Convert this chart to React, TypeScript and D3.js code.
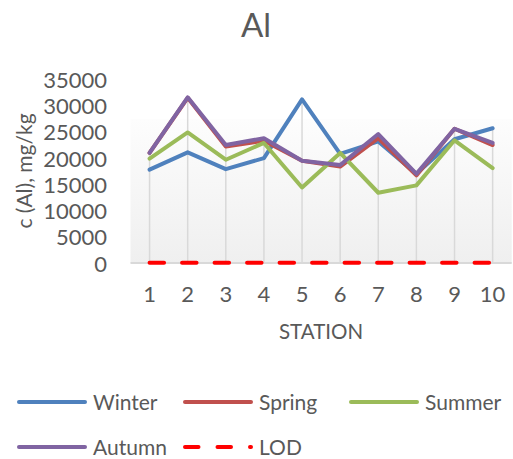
import React from "react";
import * as d3 from "d3";

const stations = ["1", "2", "3", "4", "5", "6", "7", "8", "9", "10"];
const winter = [17800, 21100, 17900, 20000, 31200, 20800, 23200, 17000, 23600, 25700];
const spring = [21000, 31500, 22200, 23300, 19500, 18400, 23800, 16700, 25600, 22500];
const summer = [19900, 24900, 19700, 22900, 14400, 21000, 13400, 14800, 23400, 18100];
const autumn = [21000, 31600, 22500, 23800, 19500, 18700, 24600, 17000, 25600, 22900];
const lod = [50, 50, 50, 50, 50, 50, 50, 50, 50, 50];
const yTicks = [0, 5000, 10000, 15000, 20000, 25000, 30000, 35000];

const seriesNames = ["Winter", "Spring", "Summer", "Autumn", "LOD"];
const colors = ["#4F81BD", "#C0504D", "#9BBB59", "#8064A2", "#FF0000"];

const FONT = "Lato, 'Open Sans', sans-serif";
const TXT = "#595959";

export default function App() {
  const W = 513, H = 459;
  const x = d3.scaleBand<string>().domain(stations).range([130.5, 511.7]).padding(0);
  const cx = (s: string) => (x(s) as number) + x.bandwidth() / 2;
  const y = d3.scaleLinear().domain([0, 35000]).range([263, 79.5]);
  const data = [winter, spring, summer, autumn, lod];
  const line = d3.line<number>().x((_, i) => cx(stations[i])).y((v) => y(v));
  const maxes = stations.map((_, i) => d3.max(data, (s) => s[i]) as number);

  const legend = [
    { i: 0, lx: 17, ly: 402, tx: 93 },
    { i: 1, lx: 183, ly: 402, tx: 259 },
    { i: 2, lx: 349, ly: 402, tx: 425 },
    { i: 3, lx: 17, ly: 447, tx: 93 },
    { i: 4, lx: 183, ly: 447, tx: 259 },
  ];

  return (
    <svg width={W} height={H} style={{ position: "absolute", left: 0, top: 0, background: "#fff" }} fontFamily={FONT}>
      <defs>
        <linearGradient id="bg" x1="0" y1="0" x2="0" y2="1">
          <stop offset="0" stopColor="#fdfdfd" />
          <stop offset="1" stopColor="#efefef" />
        </linearGradient>
      </defs>
      <rect x={0} y={0} width={W} height={H} fill="#fff" />
      <text x={256} y={37} textAnchor="middle" fontSize={33} fill={TXT}>Al</text>
      <rect x={130.5} y={119} width={511.7 - 130.5} height={263 - 119} fill="url(#bg)" />
      {stations.map((s, i) => (
        <line key={s} x1={cx(s)} x2={cx(s)} y1={y(maxes[i])} y2={263} stroke="#d9d9d9" strokeWidth={1.5} />
      ))}
      <line x1={130.5} x2={511.7} y1={263} y2={263} stroke="#d9d9d9" strokeWidth={2} />
      {yTicks.map((t) => (
        <text key={t} x={107} y={y(t) + 8.5} textAnchor="end" fontSize={22} fill={TXT}>{t}</text>
      ))}
      {stations.map((s) => (
        <text key={s} x={cx(s)} y={302} textAnchor="middle" fontSize={22} fill={TXT}>{s}</text>
      ))}
      <text transform="translate(32,171) rotate(-90)" textAnchor="middle" fontSize={21} fill={TXT}>c (Al), mg/kg</text>
      <text x={321} y={339} textAnchor="middle" fontSize={20.5} fill={TXT}>STATION</text>
      {data.map((d, k) => (
        <path
          key={k}
          d={line(d) as string}
          fill="none"
          stroke={colors[k]}
          strokeWidth={4}
          strokeLinejoin="round"
          strokeLinecap="round"
          strokeDasharray={k === 4 ? "14.5 18" : undefined}
        />
      ))}
      {legend.map((l) => (
        <g key={l.i}>
          <line
            x1={l.lx + 2}
            x2={l.lx + 68}
            y1={l.ly}
            y2={l.ly}
            stroke={colors[l.i]}
            strokeWidth={4}
            strokeLinecap="round"
            strokeDasharray={l.i === 4 ? "13.5 19" : undefined}
          />
          <text x={l.tx} y={l.ly + 7.5} fontSize={21} fill={TXT}>{seriesNames[l.i]}</text>
        </g>
      ))}
    </svg>
  );
}
